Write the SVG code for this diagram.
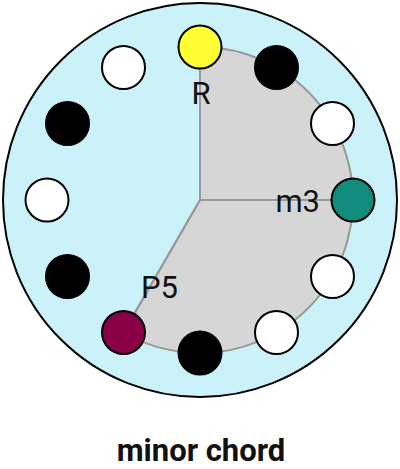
<svg xmlns="http://www.w3.org/2000/svg" width="400" height="469" viewBox="0 0 400 469">
<style>
.note{stroke:#000;stroke-width:2}
.w{fill:#fff}
.b{fill:#000}
.lbl{font-family:Roboto,"Liberation Sans",sans-serif;font-size:31px;fill:#111}
.ray{stroke:#999;stroke-width:2;fill:none}
</style>
<rect width="400" height="469" fill="#fff"/>
<g id="dial">
<circle cx="200" cy="200" r="197" fill="#ccf2f9" stroke="#000" stroke-width="2"/>
</g>
<g id="chord-wedge">
<path d="M200,200 L200,47 A153,153 0 1 1 123.5,332.5 Z" fill="#d6d6d6" stroke="#999" stroke-width="2"/>
</g>
<g id="connectors">
<line class="ray" x1="200" y1="200" x2="200" y2="47"/>
<line class="ray" x1="200" y1="200" x2="353" y2="200"/>
<line class="ray" x1="200" y1="200" x2="123.5" y2="332.5"/>
</g>
<g id="n0"><circle class="note" cx="200" cy="47" r="21.5" fill="#ffff33"/></g>
<g id="n1"><circle class="note b" cx="276.5" cy="67.5" r="21.5"/></g>
<g id="n2"><circle class="note w" cx="332.5" cy="123.5" r="21.5"/></g>
<g id="n3"><circle class="note" cx="353" cy="200" r="21.5" fill="#118c7c"/></g>
<g id="n4"><circle class="note w" cx="332.5" cy="276.5" r="21.5"/></g>
<g id="n5"><circle class="note w" cx="276.5" cy="332.5" r="21.5"/></g>
<g id="n6"><circle class="note b" cx="200" cy="353" r="21.5"/></g>
<g id="n7"><circle class="note" cx="123.5" cy="332.5" r="21.5" fill="#8a0047"/></g>
<g id="n8"><circle class="note b" cx="67.5" cy="276.5" r="21.5"/></g>
<g id="n9"><circle class="note w" cx="47" cy="200" r="21.5"/></g>
<g id="n10"><circle class="note b" cx="67.5" cy="123.5" r="21.5"/></g>
<g id="n11"><circle class="note w" cx="123.5" cy="67.5" r="21.5"/></g>
<g id="labels">
<text class="lbl" x="201" y="104" text-anchor="middle">R</text>
<text class="lbl" x="320" y="212" text-anchor="end">m3</text>
<text class="lbl" x="141" y="298">P5</text>
</g>
<g id="title">
<text x="201" y="461" text-anchor="middle" font-family="Roboto,'Liberation Sans',sans-serif" font-weight="bold" font-size="31" fill="#111">minor chord</text>
</g>
</svg>
